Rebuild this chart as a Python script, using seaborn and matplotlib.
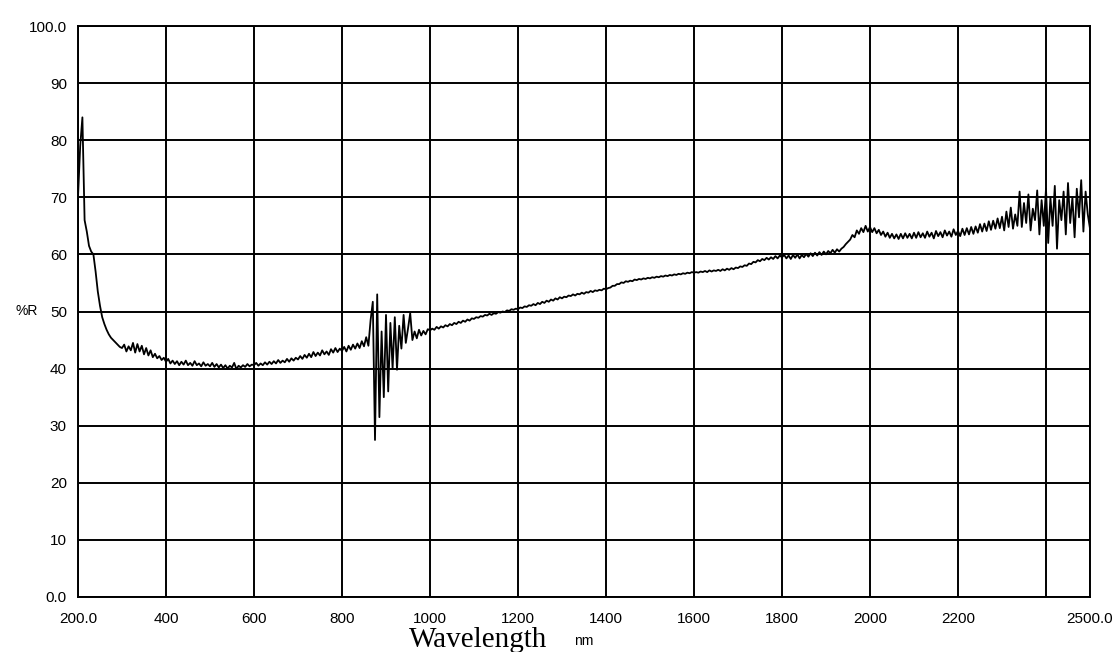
import numpy as np
import pandas as pd
import matplotlib
matplotlib.use("Agg")
import matplotlib.pyplot as plt
import seaborn as sns

# Wavelength grid (nm), 5 nm step
wavelength = np.arange(200, 2501, 5)

# %R values, one row per 100 nm
r_200 = [70, 79, 84, 66, 64, 61.5, 60.5, 60, 57, 53.5, 51, 49, 47.8, 46.8, 46.0, 45.4, 45.0, 44.6, 44.2, 43.8]
r_300 = [43.6, 44.2, 43.0, 43.9, 43.2, 44.5, 42.8, 44.3, 43.0, 44.0, 42.5, 43.6, 42.3, 43.2, 42.0, 42.6, 41.8, 42.2, 41.5, 41.9]
r_400 = [41.2, 41.7, 40.9, 41.4, 40.8, 41.3, 40.6, 41.2, 40.7, 41.4, 40.6, 41.0, 40.5, 41.3, 40.6, 40.9, 40.4, 41.1, 40.5, 40.8]
r_500 = [40.4, 41.0, 40.3, 40.8, 40.2, 40.7, 40.1, 40.6, 40.0, 40.5, 40.2, 41.0, 39.9, 40.5, 40.2, 40.6, 40.3, 40.8, 40.4, 40.7]
r_600 = [40.6, 41.0, 40.5, 40.9, 40.6, 41.1, 40.7, 41.2, 40.8, 41.3, 40.9, 41.5, 41.0, 41.4, 41.1, 41.7, 41.2, 41.8, 41.4, 41.9]
r_700 = [41.6, 42.2, 41.7, 42.4, 41.9, 42.6, 42.0, 42.9, 42.2, 42.8, 42.3, 43.2, 42.5, 43.0, 42.4, 43.4, 42.8, 43.6, 42.9, 43.5]
r_800 = [43.1, 43.8, 43.0, 44.0, 43.3, 44.2, 43.5, 44.4, 43.6, 44.8, 43.9, 45.5, 44.0, 48.5, 51.7, 27.5, 53.0, 31.5, 46.5, 35.0]
r_900 = [49.4, 36.0, 48.0, 40.0, 49.0, 39.8, 47.5, 43.5, 49.4, 44.5, 47.0, 49.7, 45.0, 46.5, 45.3, 46.8, 45.8, 46.6, 46.0, 46.9]
r_1000 = [46.7, 47.0, 46.8, 47.3, 47.0, 47.4, 47.2, 47.6, 47.4, 47.8, 47.6, 48.0, 47.8, 48.2, 48.0, 48.4, 48.2, 48.6, 48.4, 48.8]
r_1100 = [48.7, 49.0, 48.9, 49.2, 49.1, 49.4, 49.3, 49.6, 49.4, 49.7, 49.6, 49.9, 49.8, 50.0, 49.9, 50.2, 50.1, 50.4, 50.3, 50.5]
r_1200 = [50.4, 50.7, 50.6, 50.9, 50.8, 51.1, 51.0, 51.3, 51.1, 51.5, 51.3, 51.7, 51.5, 51.9, 51.7, 52.1, 51.9, 52.3, 52.1, 52.5]
r_1300 = [52.3, 52.6, 52.5, 52.8, 52.7, 53.0, 52.8, 53.1, 53.0, 53.3, 53.1, 53.4, 53.3, 53.6, 53.4, 53.7, 53.6, 53.8, 53.7, 54.0]
r_1400 = [53.9, 54.1, 54.2, 54.5, 54.5, 54.8, 54.8, 55.1, 55.0, 55.3, 55.2, 55.4, 55.3, 55.6, 55.5, 55.7, 55.6, 55.8, 55.7, 55.9]
r_1500 = [55.8, 56.0, 55.9, 56.1, 56.0, 56.2, 56.1, 56.3, 56.2, 56.4, 56.3, 56.5, 56.4, 56.6, 56.5, 56.7, 56.6, 56.8, 56.7, 56.9]
r_1600 = [56.8, 56.9, 56.8, 57.0, 56.9, 57.1, 56.9, 57.2, 57.0, 57.2, 57.1, 57.3, 57.1, 57.4, 57.2, 57.5, 57.3, 57.6, 57.4, 57.7]
r_1700 = [57.6, 57.9, 57.8, 58.1, 58.0, 58.4, 58.3, 58.7, 58.6, 59.0, 58.8, 59.2, 59.0, 59.4, 59.1, 59.5, 59.2, 59.7, 59.3, 59.8]
r_1800 = [59.5, 59.9, 59.3, 59.8, 59.2, 59.9, 59.4, 60.0, 59.3, 59.9, 59.5, 60.1, 59.6, 60.2, 59.7, 60.3, 59.8, 60.4, 59.9, 60.5]
r_1900 = [60.0, 60.6, 60.2, 60.8, 60.3, 60.9, 60.5, 61.0, 61.3, 61.8, 62.2, 62.6, 63.4, 63.0, 64.2, 63.6, 64.6, 63.9, 65.0, 64.0]
r_2000 = [64.8, 63.9, 64.6, 63.7, 64.3, 63.4, 64.0, 63.1, 63.8, 62.9, 63.6, 62.8, 63.5, 62.7, 63.6, 62.8, 63.7, 62.9, 63.6, 62.8]
r_2100 = [63.8, 62.9, 63.9, 63.0, 63.7, 62.9, 64.0, 63.1, 63.8, 62.8, 64.1, 63.2, 63.9, 63.0, 64.2, 63.3, 64.0, 63.1, 64.4, 63.4]
r_2200 = [64.1, 63.2, 64.5, 63.4, 64.6, 63.5, 64.8, 63.6, 64.9, 63.8, 65.3, 64.0, 65.4, 64.1, 65.8, 64.3, 65.9, 64.5, 66.3, 64.6]
r_2300 = [66.6, 64.2, 67.5, 64.8, 68.2, 64.5, 67.0, 65.0, 71.0, 64.8, 69.0, 65.5, 70.5, 64.2, 68.0, 66.0, 71.2, 63.5, 69.5, 65.0]
r_2400 = [71.5, 62.0, 70.0, 65.0, 72.0, 61.0, 69.5, 66.0, 71.0, 63.5, 72.5, 65.5, 70.0, 63.0, 71.5, 66.5, 73.0, 64.0, 71.0, 67.0]
r_2500 = [64.5]

reflectance = (r_200 + r_300 + r_400 + r_500 + r_600 + r_700 + r_800 + r_900 +
               r_1000 + r_1100 + r_1200 + r_1300 + r_1400 + r_1500 + r_1600 +
               r_1700 + r_1800 + r_1900 + r_2000 + r_2100 + r_2200 + r_2300 +
               r_2400 + r_2500)

x_ticks = [200, 400, 600, 800, 1000, 1200, 1400, 1600, 1800, 2000, 2200, 2400, 2500]
x_tick_labels = ["200.0", "400", "600", "800", "1000", "1200", "1400", "1600",
                 "1800", "2000", "2200", "", "2500.0"]
y_ticks = [0, 10, 20, 30, 40, 50, 60, 70, 80, 90, 100]
y_tick_labels = ["0.0", "10", "20", "30", "40", "50", "60", "70", "80", "90", "100.0"]

df = pd.DataFrame({"Wavelength": wavelength, "R": reflectance})

sns.set_style("white")
plt.rcParams["font.family"] = ["Liberation Sans", "DejaVu Sans"]

fig = plt.figure(figsize=(11.17, 6.52), dpi=100)
ax = fig.add_axes([78 / 1117, 1 - 597 / 652, (1090 - 78) / 1117, (597 - 26) / 652])

sns.lineplot(data=df, x="Wavelength", y="R", ax=ax, color="black",
             linewidth=1.3, estimator=None, sort=False)

ax.set_xlim(200, 2500)
ax.set_ylim(0, 100)
ax.set_xticks(x_ticks)
ax.set_xticklabels(x_tick_labels)
ax.set_yticks(y_ticks)
ax.set_yticklabels(y_tick_labels)
ax.grid(True, color="black", linewidth=1.4)
ax.set_axisbelow(True)
for s in ax.spines.values():
    s.set_color("black")
    s.set_linewidth(1.4)
ax.tick_params(axis="both", direction="out", length=4, width=1.4, color="black",
               labelsize=11, labelcolor="black")
ax.tick_params(axis="x", pad=7)
ax.tick_params(axis="y", pad=4)
ax.set_xlabel("")
ax.set_ylabel("")

fig.text(478 / 1117, 1 - 647 / 652, "Wavelength", family=["Liberation Serif"],
         fontsize=21, ha="center", va="baseline", color="black")
fig.text(584 / 1117, 1 - 641 / 652, "nm", fontsize=10, ha="center", va="center", color="black")
fig.text(27 / 1117, 1 - 311 / 652, "%R", fontsize=10, ha="center", va="center", color="black")

fig.savefig("out.png", dpi=100, facecolor="white")
